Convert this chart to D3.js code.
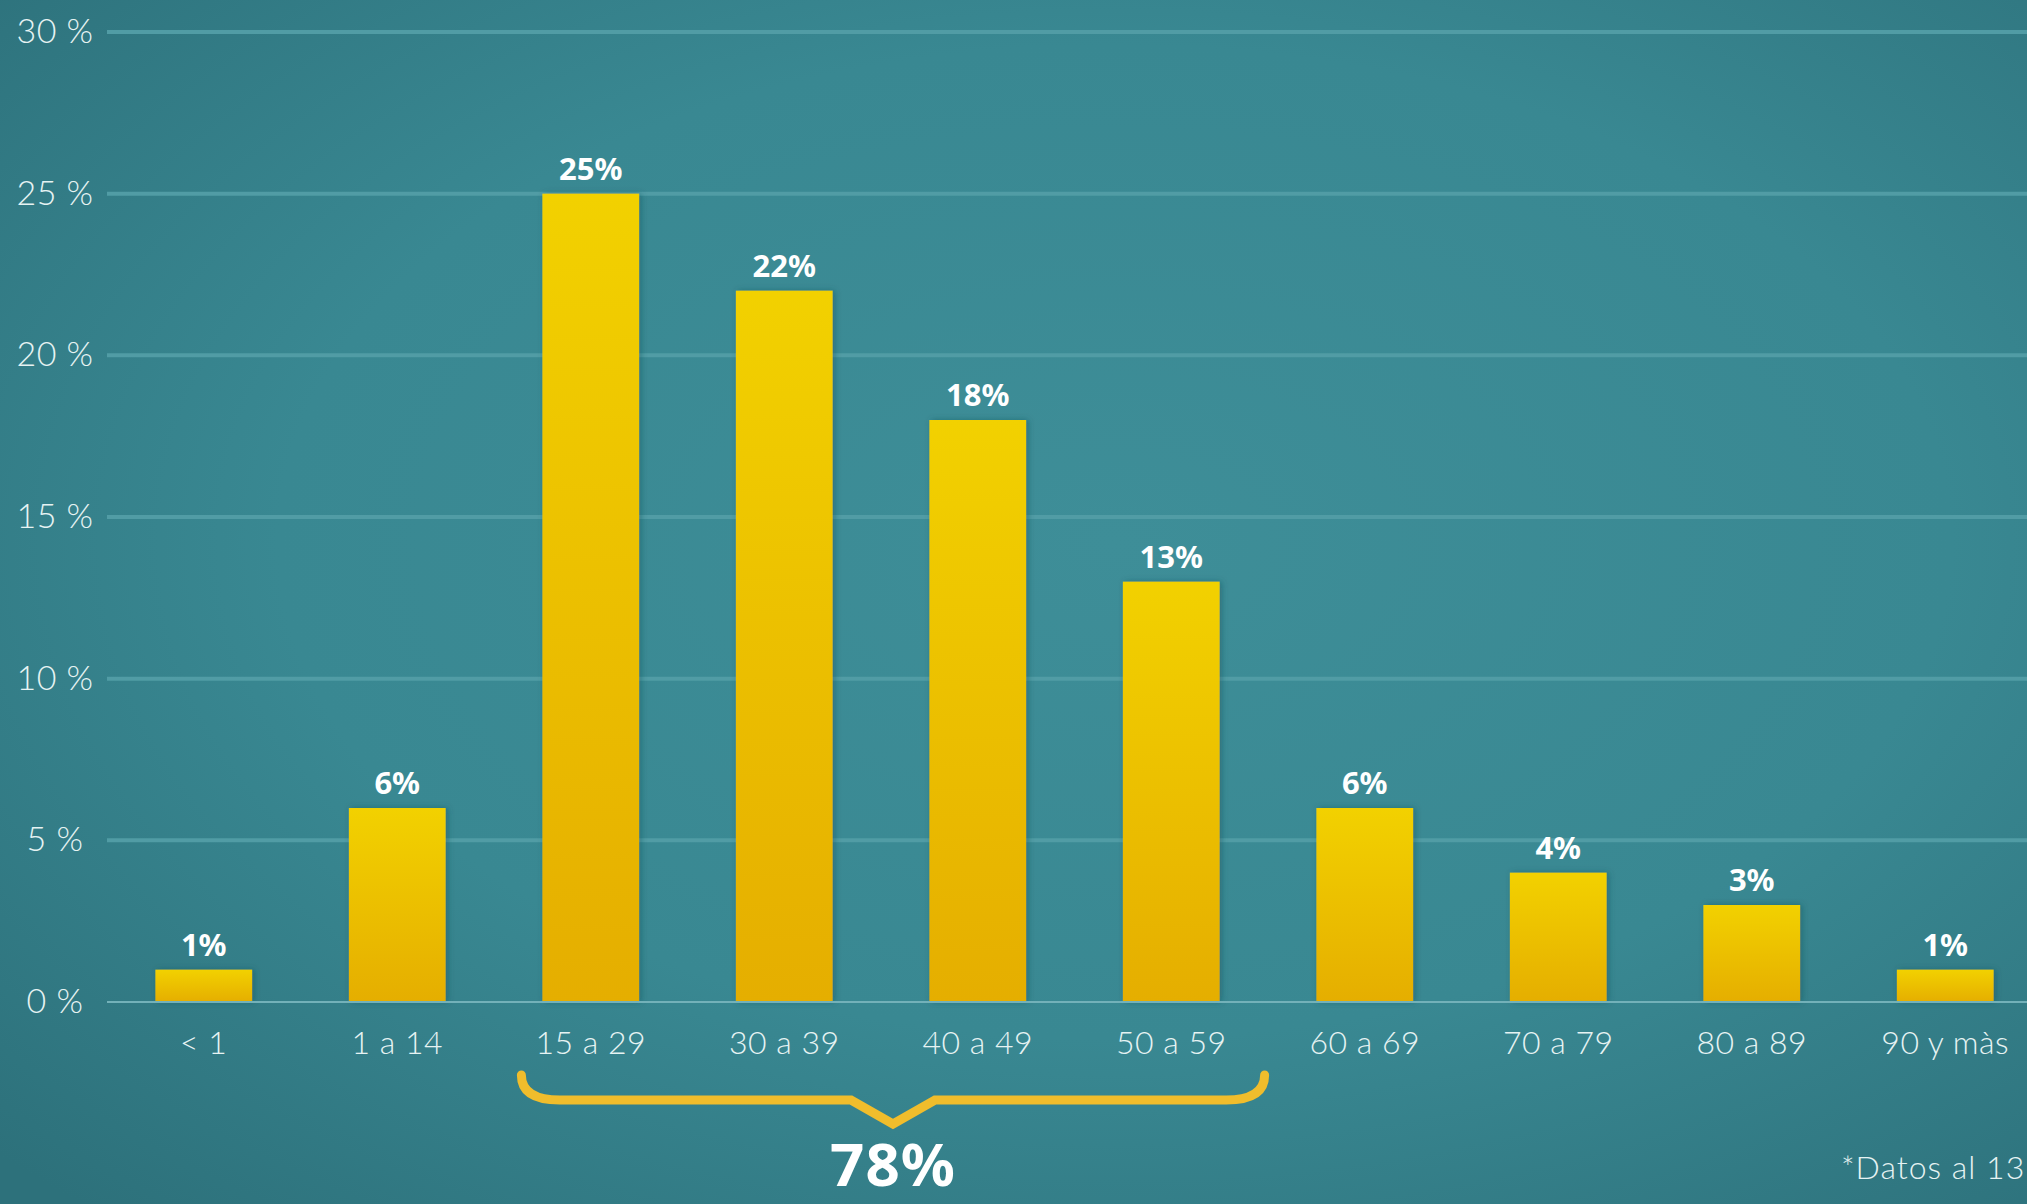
<!DOCTYPE html>
<html>
<head>
<meta charset="utf-8">
<script src="https://cdn.jsdelivr.net/npm/d3@7"></script>
<style>
  html, body { margin: 0; padding: 0; overflow: hidden; background: #347e88; }
  svg { display: block; }
</style>
</head>
<body>
<script>
const width = 2027;
const height = 1204;

// Age groups and share of cases (%).
const categories = ["< 1", "1 a 14", "15 a 29", "30 a 39", "40 a 49", "50 a 59", "60 a 69", "70 a 79", "80 a 89", "90 y màs"];
const values = [1, 6, 25, 22, 18, 13, 6, 4, 3, 1];
const yTicks = [0, 5, 10, 15, 20, 25, 30];
const braceFrom = "15 a 29";
const braceTo = "50 a 59";
const braceLabel = "78%";
const footnote = "*Datos al 13";

const svg = d3.select("body").append("svg")
  .attr("width", width)
  .attr("height", height);

const defs = svg.append("defs");

// Teal background, lighter in the middle.
const bg = defs.append("radialGradient")
  .attr("id", "bg")
  .attr("cx", "0.55").attr("cy", "0.45").attr("r", "0.75");
bg.append("stop").attr("offset", "0%").attr("stop-color", "#3e8e98");
bg.append("stop").attr("offset", "55%").attr("stop-color", "#398892");
bg.append("stop").attr("offset", "100%").attr("stop-color", "#2d717b");

// Yellow bar gradient.
const barGrad = defs.append("linearGradient")
  .attr("id", "barGrad")
  .attr("x1", 0).attr("y1", 0).attr("x2", 0).attr("y2", 1);
barGrad.append("stop").attr("offset", "0%").attr("stop-color", "#f2d100");
barGrad.append("stop").attr("offset", "100%").attr("stop-color", "#e5ae00");

const shadow = defs.append("filter").attr("id", "shadow")
  .attr("x", "-20%").attr("y", "-20%").attr("width", "140%").attr("height", "140%");
shadow.append("feDropShadow")
  .attr("dx", 2).attr("dy", 0).attr("stdDeviation", 3)
  .attr("flood-color", "#1d4a52").attr("flood-opacity", 0.45);

svg.append("rect")
  .attr("width", width).attr("height", height)
  .attr("fill", "url(#bg)");

// Scales.
const x = d3.scaleBand()
  .domain(categories)
  .range([107, 2042])
  .paddingInner(0.5)
  .paddingOuter(0.25);

const y = d3.scaleLinear()
  .domain([0, 30])
  .range([1002, 32]);

// Gridlines.
svg.append("g")
  .selectAll("line")
  .data(yTicks.filter(d => d > 0))
  .join("line")
  .attr("x1", 107).attr("x2", width)
  .attr("y1", d => y(d)).attr("y2", d => y(d))
  .attr("stroke", "#519ca5")
  .attr("stroke-width", 4);

// Y tick labels.
svg.append("g")
  .selectAll("text")
  .data(yTicks)
  .join("text")
  .attr("x", 55)
  .attr("y", d => y(d) + 11)
  .attr("text-anchor", "middle")
  .attr("fill", "#e6f3f3")
  .style("font-family", "Lato, 'Open Sans', sans-serif")
  .style("font-weight", 300)
  .style("font-size", "34px")
  .style("letter-spacing", "0.5px")
  .text(d => `${d} %`);

// Bars.
svg.append("g")
  .selectAll("rect")
  .data(values)
  .join("rect")
  .attr("x", (d, i) => x(categories[i]))
  .attr("y", d => y(d))
  .attr("width", x.bandwidth())
  .attr("height", d => y(0) - y(d))
  .attr("fill", "url(#barGrad)")
  .attr("filter", "url(#shadow)");

// Baseline.
svg.append("line")
  .attr("x1", 107).attr("x2", width)
  .attr("y1", y(0)).attr("y2", y(0))
  .attr("stroke", "#73b1b9")
  .attr("stroke-width", 2);

// Value labels.
svg.append("g")
  .selectAll("text")
  .data(values)
  .join("text")
  .attr("x", (d, i) => x(categories[i]) + x.bandwidth() / 2)
  .attr("y", d => y(d) - 14)
  .attr("text-anchor", "middle")
  .attr("fill", "#ffffff")
  .style("font-family", "'Noto Sans', sans-serif")
  .style("font-weight", 700)
  .style("font-size", "31px")
  .text(d => `${d}%`);

// Category labels.
svg.append("g")
  .selectAll("text")
  .data(categories)
  .join("text")
  .attr("x", d => x(d) + x.bandwidth() / 2)
  .attr("y", 1054)
  .attr("text-anchor", "middle")
  .attr("fill", "#e6f3f3")
  .style("font-family", "Lato, 'Open Sans', sans-serif")
  .style("font-weight", 300)
  .style("font-size", "32px")
  .style("letter-spacing", "0.5px")
  .text(d => d);

// Curly brace grouping 15 to 59.
const bx0 = x(braceFrom) - 21;
const bx1 = x(braceTo) + x.bandwidth() + 45;
const bmid = (bx0 + bx1) / 2;
const topY = 1075, lineY = 1100, tipY = 1124, r = 24;
const brace = d3.path();
brace.moveTo(bx0, topY);
brace.quadraticCurveTo(bx0, lineY, bx0 + r * 1.6, lineY);
brace.lineTo(bmid - 42, lineY);
brace.lineTo(bmid, tipY);
brace.lineTo(bmid + 42, lineY);
brace.lineTo(bx1 - r * 1.6, lineY);
brace.quadraticCurveTo(bx1, lineY, bx1, topY);

svg.append("path")
  .attr("d", brace.toString())
  .attr("fill", "none")
  .attr("stroke", "#f0bd2c")
  .attr("stroke-width", 9)
  .attr("stroke-linecap", "round")
  .attr("stroke-linejoin", "miter");

svg.append("text")
  .attr("x", bmid)
  .attr("y", 1186)
  .attr("text-anchor", "middle")
  .attr("fill", "#ffffff")
  .style("font-family", "'Noto Sans', sans-serif")
  .style("font-weight", 700)
  .style("font-size", "60px")
  .style("letter-spacing", "1px")
  .text(braceLabel);

// Footnote.
svg.append("text")
  .attr("x", 1841)
  .attr("y", 1179)
  .attr("text-anchor", "start")
  .attr("fill", "#e6f3f3")
  .style("font-family", "Lato, 'Open Sans', sans-serif")
  .style("font-weight", 300)
  .style("font-size", "32px")
  .style("letter-spacing", "1px")
  .text(footnote);
</script>
</body>
</html>
